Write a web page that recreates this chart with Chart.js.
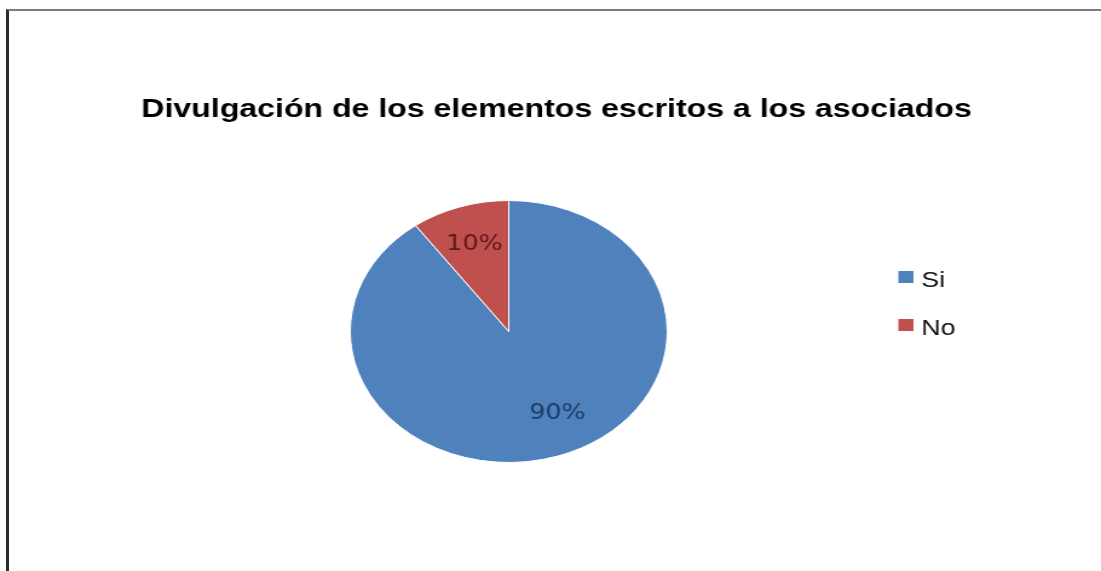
<!DOCTYPE html>
<html><head><meta charset="utf-8">
<script src="https://cdn.jsdelivr.net/npm/chart.js@4/dist/chart.umd.min.js"></script>
<style>
html,body{margin:0;padding:0;background:#fff;overflow:hidden;width:1101px;height:571px}
#frame{position:absolute;left:6px;top:9px;width:1100px;height:570px;border-left:3px solid #2b2b2b;border-top:2px solid #7d7d7d;box-sizing:border-box}
#c{position:absolute;left:0;top:0;transform:scaleX(1.2099);transform-origin:0 0}
</style></head>
<body>
<div id="frame"></div>
<canvas id="c" width="910" height="571"></canvas>
<script>
const TITLE = 'Divulgación de los elementos escritos a los asociados';
const categories = ['Si', 'No'];
const values = [90, 10];
const sliceColors = ['#4F81BD', '#C0504D'];
const labelColors = ['#1F3B66', '#5A1B19'];

const titlePlugin = {
  id: 'titleText',
  afterDraw(chart) {
    const ctx = chart.ctx;
    ctx.save();
    ctx.font = 'bold 26.5px "Liberation Sans", Arial, sans-serif';
    ctx.fillStyle = '#000';
    ctx.textAlign = 'center';
    ctx.textBaseline = 'alphabetic';
    ctx.fillText(TITLE, 460, 116.5);
    ctx.restore();
  }
};

const legendPlugin = {
  id: 'sideLegend',
  afterDraw(chart) {
    const ctx = chart.ctx;
    ctx.save();
    ctx.font = '22px "Liberation Sans", Arial, sans-serif';
    ctx.textAlign = 'left';
    ctx.textBaseline = 'alphabetic';
    categories.forEach((c, i) => {
      const y0 = 271 + i * 48;
      ctx.fillStyle = sliceColors[i];
      ctx.fillRect(742.5, y0, 12.5, 12);
      ctx.fillStyle = '#111';
      ctx.fillText(c, 761.5, y0 + 16);
    });
    ctx.restore();
  }
};

const pctPlugin = {
  id: 'pctLabels',
  afterDatasetsDraw(chart) {
    const ctx = chart.ctx;
    const meta = chart.getDatasetMeta(0);
    const total = values.reduce((a, b) => a + b, 0);
    ctx.save();
    ctx.font = '21px "DejaVu Sans", Verdana, sans-serif';
    ctx.textAlign = 'center';
    ctx.textBaseline = 'middle';
    meta.data.forEach((arc, i) => {
      const span = arc.endAngle - arc.startAngle;
      const mid = (arc.startAngle + arc.endAngle) / 2 - (span > Math.PI ? 0.14 : 0);
      const r = arc.outerRadius * 0.7;
      const x = arc.x + Math.cos(mid) * r;
      const y = arc.y + Math.sin(mid) * r;
      ctx.fillStyle = labelColors[i];
      ctx.fillText(Math.round(values[i] / total * 100) + '%', x, y);
    });
    ctx.restore();
  }
};

new Chart(document.getElementById('c'), {
  type: 'pie',
  data: {
    labels: categories,
    datasets: [{
      data: values,
      backgroundColor: sliceColors,
      borderColor: '#ffffff',
      borderWidth: 1
    }]
  },
  options: {
    responsive: false,
    animation: false,
    devicePixelRatio: 1,
    layout: { padding: { left: 289, right: 358, top: 200, bottom: 108 } },
    plugins: { legend: { display: false }, tooltip: { enabled: false }, title: { display: false } }
  },
  plugins: [pctPlugin, titlePlugin, legendPlugin]
});
</script>
</body></html>
